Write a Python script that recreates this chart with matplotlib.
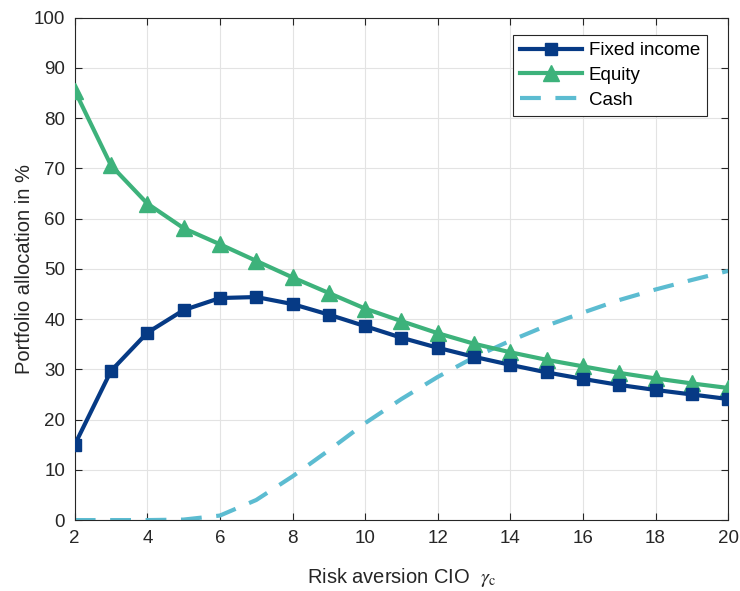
import matplotlib
matplotlib.use("Agg")
import matplotlib.pyplot as plt
import numpy as np

plt.rcParams["font.family"] = ["Liberation Sans", "DejaVu Sans"]
plt.rcParams["mathtext.fontset"] = "stix"

gamma = np.arange(2, 21)
fixed_income = [15.0, 29.7, 37.3, 41.8, 44.2, 44.4, 43.0, 40.9, 38.6, 36.3,
                34.3, 32.5, 30.9, 29.4, 28.1, 26.9, 25.9, 25.0, 24.1]
equity = [85.5, 70.6, 63.0, 58.1, 54.9, 51.6, 48.3, 45.2, 42.1, 39.6,
          37.2, 35.1, 33.4, 31.9, 30.6, 29.3, 28.2, 27.2, 26.3]
cash = [0.0, 0.0, 0.0, 0.1, 0.9, 4.0, 8.7, 13.9, 19.3, 24.1,
        28.5, 32.4, 35.7, 38.7, 41.3, 43.8, 45.9, 47.8, 49.6]

FI_C, EQ_C, CASH_C = "#063A85", "#3DB27B", "#5CBCD1"

fig = plt.figure(figsize=(7.40, 5.91), dpi=100)
ax = fig.add_axes([0.101, 0.120, 0.883, 0.850])

ax.plot(gamma, fixed_income, color=FI_C, lw=3, marker="s", markersize=8.5,
        label="Fixed income", zorder=4)
ax.plot(gamma, equity, color=EQ_C, lw=3, marker="^", markersize=11.5,
        label="Equity", zorder=3)
ax.plot(gamma, cash, color=CASH_C, lw=3, ls=(0, (5, 3.5)),
        label="Cash", zorder=2)

ax.set_xlim(2, 20)
ax.set_ylim(0, 100)
ax.set_xticks(np.arange(2, 21, 2))
ax.set_yticks(np.arange(0, 101, 10))
ax.grid(True, color="#e3e3e3", lw=0.8)
ax.set_axisbelow(True)
ax.tick_params(direction="in", top=True, right=True, labelsize=13.5,
               colors="#262626", length=5, pad=7)
for s in ax.spines.values():
    s.set_color("#262626")
    s.set_linewidth(0.8)

ax.set_xlabel(r"Risk aversion CIO  $\gamma_{\rm c}$", fontsize=14.5,
              color="#262626", labelpad=14)
ax.set_ylabel("Portfolio allocation in %", fontsize=14.5, color="#262626",
              labelpad=0)

leg = ax.legend(loc="upper right", bbox_to_anchor=(0.968, 0.966),
                borderaxespad=0, fontsize=13.5,
                handlelength=3.3, handletextpad=0.35, borderpad=0.4,
                labelspacing=0.4, fancybox=False, framealpha=1,
                edgecolor="#262626")
leg.get_frame().set_linewidth(0.8)

fig.savefig("out.png", dpi=100)
